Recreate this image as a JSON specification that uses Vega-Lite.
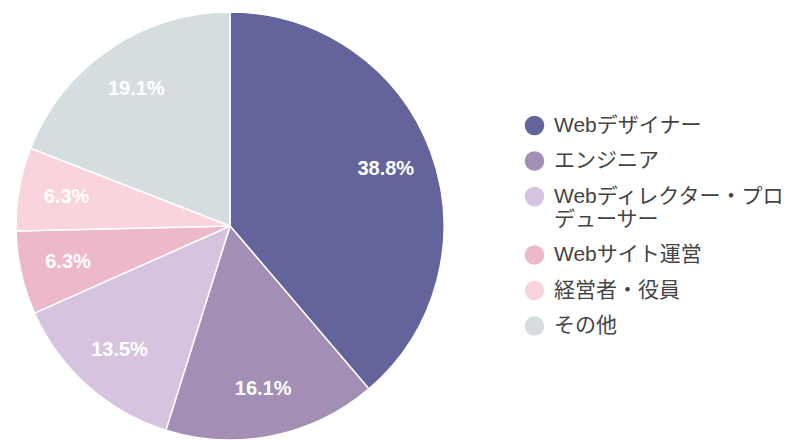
{
  "$schema": "https://vega.github.io/schema/vega-lite/v6.json",
  "width": 460,
  "height": 452,
  "padding": {"left": 0, "top": 0, "right": 332, "bottom": 0},
  "autosize": {"type": "none"},
  "background": "white",
  "data": {"values": [
    {"job": "Webデザイナー", "share": 0.388, "order": 1},
    {"job": "エンジニア", "share": 0.161, "order": 2},
    {"job": "Webディレクター・プロ\nデューサー", "share": 0.135, "order": 3},
    {"job": "Webサイト運営", "share": 0.063, "order": 4},
    {"job": "経営者・役員", "share": 0.063, "order": 5},
    {"job": "その他", "share": 0.191, "order": 6}
  ]},
  "encoding": {
    "theta": {"field": "share", "type": "quantitative", "stack": true},
    "order": {"field": "order", "type": "quantitative"},
    "color": {
      "field": "job", "type": "nominal",
      "sort": {"field": "order"},
      "scale": {
        "domain": ["Webデザイナー", "エンジニア", "Webディレクター・プロ\nデューサー", "Webサイト運営", "経営者・役員", "その他"],
        "range": ["#62649b", "#a38fb5", "#d5c3df", "#ecb8ca", "#fad4dd", "#d6dde0"]
      },
      "legend": {
        "title": null,
        "orient": "none",
        "legendX": 524,
        "legendY": 115,
        "symbolType": "circle",
        "symbolSize": 380,
        "symbolStrokeWidth": 0,
        "labelFont": "Liberation Sans, Noto Sans CJK JP",
        "labelFontSize": 21,
        "labelColor": "#444444",
        "labelOffset": 9,
        "labelLimit": 300,
        "rowPadding": 13.5,
        "labelExpr": "split(datum.label, '\\n')",
        "encode": {"labels": {"update": {"lineHeight": {"value": 28}}}}
      }
    }
  },
  "layer": [
    {
      "mark": {"type": "arc", "radius": 214, "stroke": "white", "strokeWidth": 1.5}
    },
    {
      "mark": {"type": "text", "radius": 166, "fill": "white", "font": "Liberation Sans", "fontSize": 20, "fontWeight": "bold", "align": "center", "baseline": "middle"},
      "encoding": {
        "text": {"field": "share", "type": "quantitative", "format": ".1%"},
        "color": {"value": "white"}
      }
    }
  ]
}
